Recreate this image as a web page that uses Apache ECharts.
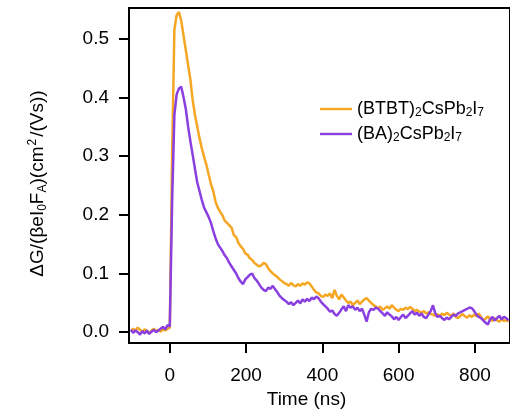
<!DOCTYPE html>
<html>
<head>
<meta charset="utf-8">
<script src="https://cdn.jsdelivr.net/npm/echarts@6/dist/echarts.min.js"></script>
<style>
html,body{margin:0;padding:0;background:#fff;}
#chart{width:510px;height:414px;}
</style>
</head>
<body>
<div id="chart"></div>
<script>
// Time axis (ns)
const times = [
  -102, -96, -90, -84, -78, -72, -66, -60, -54, -48,
  -42, -36, -30, -24, -18, -12, -6, 0,
  6, 12, 18, 24, 30, 36, 42, 48, 54, 60,
  66, 72, 78, 84, 90, 96, 102, 108, 114, 120,
  126, 132, 138, 144, 150, 156, 162, 168, 174, 180,
  186, 192, 198, 204, 210, 216, 222, 228, 234, 240,
  246, 252, 258, 264, 270, 276, 282, 288, 294, 300,
  306, 312, 318, 324, 330, 336, 342, 348, 354, 360,
  366, 372, 378, 384, 390, 396, 402, 408, 414, 420,
  426, 432, 438, 444, 450, 456, 462, 468, 474, 480,
  486, 492, 498, 504, 510, 516, 522, 528, 534, 540,
  546, 552, 558, 564, 570, 576, 582, 588, 594, 600,
  606, 612, 618, 624, 630, 636, 642, 648, 654, 660,
  666, 672, 678, 684, 690, 696, 702, 708, 714, 720,
  726, 732, 738, 744, 750, 756, 762, 768, 774, 780,
  786, 792, 798, 804, 810, 816, 822, 828, 834, 840,
  846, 852, 858, 864, 870, 876, 882, 888
];

// (BTBT)2CsPb2I7
const btbtValues = [
  0.002, 0.006, 0.003, 0.008, 0.004, 0.001, 0.005, 0.002, -0.002, 0.003,
  0.006, 0.002, 0.004, 0.001, 0.005, 0.003, 0.006, 0.008,
  0.300, 0.515, 0.540, 0.545, 0.530, 0.505, 0.480, 0.455, 0.430, 0.395,
  0.370, 0.350, 0.330, 0.313, 0.298, 0.285, 0.268, 0.252, 0.240, 0.222,
  0.212, 0.205, 0.199, 0.190, 0.186, 0.182, 0.178, 0.165, 0.162, 0.152,
  0.146, 0.142, 0.134, 0.132, 0.126, 0.123, 0.118, 0.115, 0.112, 0.114,
  0.118, 0.116, 0.109, 0.104, 0.100, 0.097, 0.094, 0.090, 0.087, 0.084,
  0.082, 0.079, 0.084, 0.080, 0.078, 0.082, 0.079, 0.083, 0.081, 0.085,
  0.083, 0.078, 0.072, 0.068, 0.066, 0.062, 0.060, 0.064, 0.062, 0.066,
  0.058, 0.072, 0.062, 0.056, 0.064, 0.059, 0.054, 0.050, 0.052, 0.046,
  0.050, 0.054, 0.048, 0.052, 0.056, 0.058, 0.054, 0.050, 0.046, 0.044,
  0.040, 0.044, 0.038, 0.041, 0.044, 0.040, 0.046, 0.042, 0.038, 0.036,
  0.040, 0.038, 0.042, 0.039, 0.043, 0.040, 0.036, 0.038, 0.035, 0.033,
  0.036, 0.032, 0.034, 0.031, 0.030, 0.028, 0.031, 0.027, 0.032, 0.029,
  0.033, 0.030, 0.028, 0.032, 0.026, 0.024, 0.028, 0.031, 0.027, 0.025,
  0.029, 0.026, 0.030, 0.027, 0.032, 0.026, 0.020, 0.023, 0.027, 0.022,
  0.019, 0.024, 0.020, 0.018, 0.022, 0.019, 0.021, 0.018
];

// (BA)2CsPb2I7
const baValues = [
  0.004, -0.001, 0.003, 0.000, -0.004, 0.002, -0.002, 0.003, -0.003, 0.001,
  0.004, 0.000, 0.003, 0.006, 0.009, 0.005, 0.012, 0.010,
  0.220, 0.370, 0.405, 0.415, 0.418, 0.400, 0.380, 0.350, 0.325, 0.302,
  0.278, 0.255, 0.240, 0.225, 0.212, 0.204, 0.196, 0.186, 0.172, 0.160,
  0.150, 0.144, 0.138, 0.131, 0.126, 0.118, 0.112, 0.106, 0.100, 0.092,
  0.086, 0.082, 0.090, 0.094, 0.098, 0.100, 0.092, 0.088, 0.082, 0.076,
  0.072, 0.070, 0.076, 0.074, 0.079, 0.073, 0.068, 0.062, 0.058, 0.055,
  0.052, 0.048, 0.051, 0.046, 0.050, 0.054, 0.049, 0.056, 0.052, 0.057,
  0.053, 0.059, 0.056, 0.061, 0.058, 0.052, 0.048, 0.044, 0.040, 0.035,
  0.037, 0.031, 0.028, 0.033, 0.039, 0.044, 0.036, 0.046, 0.042, 0.044,
  0.038, 0.042, 0.036, 0.040, 0.030, 0.018, 0.034, 0.040, 0.038, 0.042,
  0.040, 0.036, 0.032, 0.028, 0.034, 0.030, 0.027, 0.022, 0.026, 0.021,
  0.026, 0.030, 0.024, 0.028, 0.032, 0.036, 0.030, 0.033, 0.028, 0.032,
  0.026, 0.024, 0.030, 0.036, 0.046, 0.032, 0.026, 0.028, 0.024, 0.021,
  0.025, 0.022, 0.026, 0.030, 0.028, 0.032, 0.034, 0.036, 0.038, 0.040,
  0.042, 0.041, 0.036, 0.030, 0.026, 0.024, 0.020, 0.016, 0.013, 0.022,
  0.026, 0.020, 0.024, 0.028, 0.022, 0.026, 0.024, 0.020
];

const seriesNames = ['(BTBT){sub|2}CsPb{sub|2}I{sub|7}', '(BA){sub|2}CsPb{sub|2}I{sub|7}'];
const xTicks = [0, 200, 400, 600, 800];
const yTicks = [0.0, 0.1, 0.2, 0.3, 0.4, 0.5];
const xTitle = 'Time (ns)';
const yTitle = '\u0394G/(\u03b2eI{sub|0}F{sub|A})(cm{sup|2}/(Vs))';

const FONT = '"Liberation Sans", Arial, Helvetica, sans-serif';
const ORANGE = '#F5A623';
const PURPLE = '#8A3FE0';

const chart = echarts.init(document.getElementById('chart'), null, {renderer: 'canvas'});

function pairs(vals) {
  return times.map((t, i) => [t, vals[i]]);
}

const richStyles = {
  sub: {fontSize: 12, lineHeight: 8, verticalAlign: 'bottom', fontFamily: FONT, color: '#000'},
  sup: {fontSize: 12, lineHeight: 8, verticalAlign: 'top', fontFamily: FONT, color: '#000', padding: [0, 2, 0, 1]}
};

chart.setOption({
  animation: false,
  backgroundColor: '#fff',
  grid: {
    left: 129, top: 8, right: -2, bottom: 67,
    show: true, borderColor: '#000', borderWidth: 2, backgroundColor: 'transparent'
  },
  legend: {
    orient: 'vertical',
    left: 315, top: 94,
    itemWidth: 32, itemHeight: 14, itemGap: 5,
    data: [
      {name: seriesNames[0], icon: 'path://M0,0 L32,0 L32,2.4 L0,2.4 Z', itemStyle: {color: ORANGE}},
      {name: seriesNames[1], icon: 'path://M0,0 L32,0 L32,2.4 L0,2.4 Z', itemStyle: {color: PURPLE}}
    ],
    textStyle: {
      fontFamily: FONT, fontSize: 18, color: '#000', lineHeight: 20,
      rich: {
        sub: {fontSize: 12, lineHeight: 8, verticalAlign: 'bottom', fontFamily: FONT, color: '#000'}
      }
    }
  },
  xAxis: {
    type: 'value',
    min: -107, max: 892,
    name: xTitle,
    nameLocation: 'middle',
    nameGap: 46,
    nameTextStyle: {fontFamily: FONT, fontSize: 19, color: '#000', padding: [0, 26, 0, 0]},
    axisLine: {show: true, onZero: false, lineStyle: {color: '#000', width: 2}},
    axisTick: {show: true, inside: false, length: 10, lineStyle: {color: '#000', width: 2}, customValues: xTicks},
    axisLabel: {fontFamily: FONT, fontSize: 19, color: '#000', margin: 23, customValues: xTicks,
      formatter: v => String(v)},
    splitLine: {show: false}
  },
  yAxis: {
    type: 'value',
    min: -0.0185, max: 0.552,
    name: yTitle,
    nameLocation: 'middle',
    nameRotate: 90,
    nameGap: 80,
    nameTextStyle: {fontFamily: FONT, fontSize: 19, color: '#000', lineHeight: 22, padding: [0, 16, 0, 0], rich: richStyles},
    axisLine: {show: true, onZero: false, lineStyle: {color: '#000', width: 2}},
    axisTick: {show: true, inside: false, length: 10, lineStyle: {color: '#000', width: 2}, customValues: yTicks},
    axisLabel: {fontFamily: FONT, fontSize: 19, color: '#000', margin: 20, customValues: yTicks,
      formatter: v => v.toFixed(1)},
    splitLine: {show: false}
  },
  series: [
    {
      name: seriesNames[0], type: 'line', data: pairs(btbtValues),
      symbol: 'none', lineStyle: {color: ORANGE, width: 2.5}, itemStyle: {color: ORANGE}, z: 2
    },
    {
      name: seriesNames[1], type: 'line', data: pairs(baValues),
      symbol: 'none', lineStyle: {color: PURPLE, width: 2.5}, itemStyle: {color: PURPLE}, z: 3
    }
  ]
});
</script>
</body>
</html>
